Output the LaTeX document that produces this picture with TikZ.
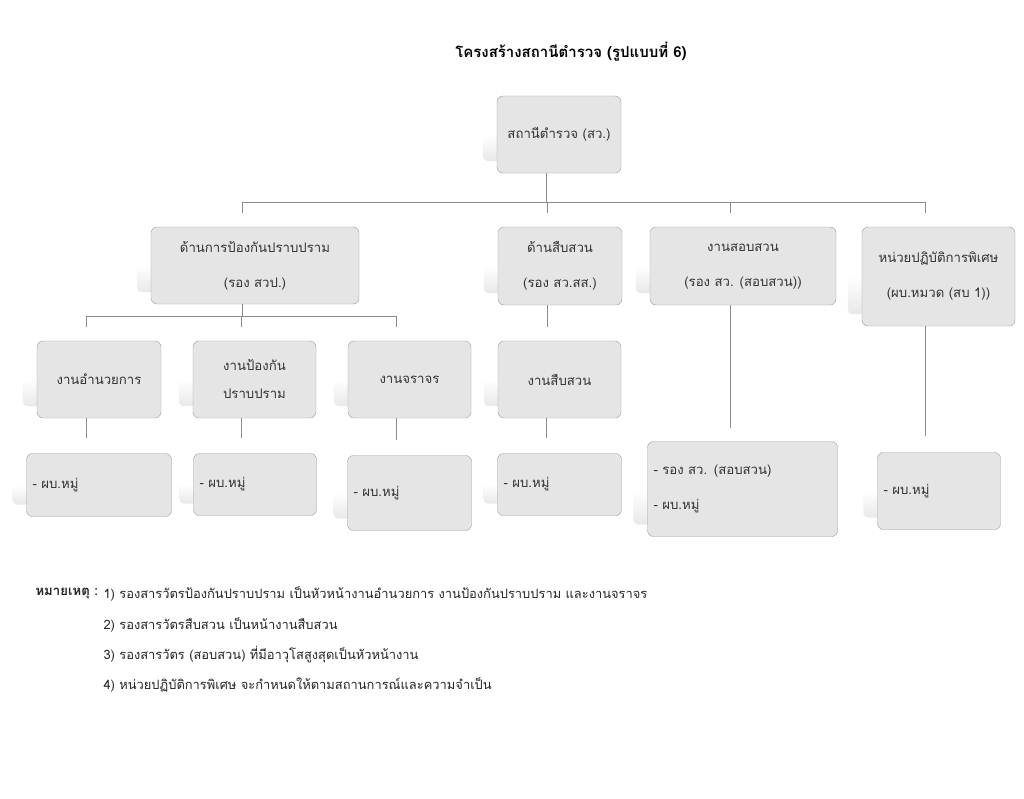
\documentclass[tikz,border=0pt]{standalone}
\usepackage{fontspec}
\newfontfamily\thaifont[Script=Thai]{Loma}
\usetikzlibrary{positioning,backgrounds}
\tikzset{box/.style={draw=black!38, fill=black!10, rounded corners=6pt, text=black!80,
           align=center, inner sep=0pt, font=\thaifont\fontsize{13.2}{35}\selectfont},
         leaf/.style={box, align=left, inner xsep=6pt},
         edge/.style={draw=black!45, line width=1pt},
         shadowbox/.style={top color=white, bottom color=black!9, rounded corners=5pt},
         note/.style={anchor=west, text=black!85, font=\thaifont\fontsize{12.9}{15}\selectfont}
}

\begin{document}
\begin{tikzpicture}[x=1pt,y=-1pt]
    \useasboundingbox (0,0) rectangle (1024,798);
    \node[font=\thaifont\bfseries\fontsize{15}{17}\selectfont] (title) at (571,52) {โครงสร้างสถานีตำรวจ (รูปแบบที่ 6)};

    % top and second row
    \node[box, minimum width=124pt, minimum height=77pt] (stn) at (559,134.5) {สถานีตำรวจ (สว.)};
    \node[box, minimum width=208pt, minimum height=77pt] (prev) at (255,265.5) {ด้านการป้องกันปราบปราม\\(รอง สวป.)};
    \node[box, minimum width=124pt, minimum height=78pt] (inv) at (560,266) {ด้านสืบสวน\\(รอง สว.สส.)};
    \node[box, minimum width=186pt, minimum height=78pt] (interr) at (743,266) {งานสอบสวน\\(รอง สว. (สอบสวน))};
    \node[box, minimum width=153pt, minimum height=99pt] (spec) at (938.5,276.5) {หน่วยปฏิบัติการพิเศษ\\(ผบ.หมวด (สบ 1))};

    % third row
    \node[box, minimum width=124pt, minimum height=77pt] (admin) at (99,379.5) {งานอำนวยการ};
    \node[box, minimum width=123pt, minimum height=77pt,
          font=\thaifont\fontsize{13.2}{28}\selectfont] (crime) at (254.5,379.5) {งานป้องกัน\\ปราบปราม};
    \node[box, minimum width=123pt, minimum height=77pt] (traffic) at (409.5,379.5) {งานจราจร};
    \node[box, minimum width=123pt, minimum height=77pt] (invwork) at (559.5,379.5) {งานสืบสวน};

    % bottom row
    \node[leaf, text width=133pt, minimum height=63pt] (b1) at (99,485) {- ผบ.หมู่};
    \node[leaf, text width=111pt, minimum height=62pt] (b2) at (255,484.5) {- ผบ.หมู่};
    \node[leaf, text width=112pt, minimum height=75pt] (b3) at (409.5,493) {- ผบ.หมู่};
    \node[leaf, text width=112pt, minimum height=62pt] (b4) at (559.5,484.5) {- ผบ.หมู่};
    \node[leaf, text width=178pt, minimum height=95pt] (b5) at (742.5,489) {- รอง สว. (สอบสวน)\\- ผบ.หมู่};
    \node[leaf, text width=111pt, minimum height=77pt] (b6) at (939,491) {- ผบ.หมู่};

    \begin{pgfonlayer}{background}
        \fill[white] (0,0) rectangle (1024,798);
        \foreach \n in {stn,prev,inv,interr,spec,admin,crime,traffic,invwork,b1,b2,b3,b4,b5,b6}
            \shade[shadowbox] ([xshift=-14pt]\n.west) rectangle ([xshift=12pt,yshift=12pt]\n.south west);
    \end{pgfonlayer}

    % connectors
    \foreach \n in {stn,prev,inv,interr,spec,admin,crime,traffic,invwork}
        \coordinate (\n-c) at ([xshift=-13pt]\n.center);
    \coordinate (bus) at (0,202);
    \coordinate (bus2) at (0,316);

    \draw[edge] (stn-c |- stn.south) -- (stn-c |- bus);
    \draw[edge] (prev-c |- bus) -- (spec-c |- bus);
    \foreach \n in {prev,inv,interr,spec}
        \draw[edge, shorten >=14pt] (\n-c |- bus) -- (\n-c |- \n.north);

    \draw[edge] (prev-c |- prev.south) -- (prev-c |- bus2);
    \draw[edge] (admin-c |- bus2) -- (traffic-c |- bus2);
    \foreach \n in {admin,crime,traffic}
        \draw[edge, shorten >=14pt] (\n-c |- bus2) -- (\n-c |- \n.north);
    \draw[edge, shorten >=14pt] (inv-c |- inv.south) -- (inv-c |- invwork.north);

    \foreach \a/\b in {admin/b1,crime/b2,traffic/b3,invwork/b4}
        \draw[edge, shorten >=15pt] (\a-c |- \a.south) -- (\a-c |- \b.north);
    \draw[edge, shorten >=13pt] (interr-c |- interr.south) -- (interr-c |- b5.north);
    \draw[edge, shorten >=16pt] (spec-c |- spec.south) -- (spec-c |- b6.north);

    % notes
    \node[note, font=\thaifont\bfseries\fontsize{13.2}{15}\selectfont] (memo) at (32,594) {หมายเหตุ :};
    \node[note] (n1) at (100,594) {1) รองสารวัตรป้องกันปราบปราม เป็นหัวหน้างานอำนวยการ งานป้องกันปราบปราม และงานจราจร};
    \node[note] (n2) at (100,625) {2) รองสารวัตรสืบสวน เป็นหน้างานสืบสวน};
    \node[note] (n3) at (100,655) {3) รองสารวัตร (สอบสวน) ที่มีอาวุโสสูงสุดเป็นหัวหน้างาน};
    \node[note] (n4) at (100,685) {4) หน่วยปฏิบัติการพิเศษ จะกำหนดให้ตามสถานการณ์และความจำเป็น};
\end{tikzpicture}
\end{document}
